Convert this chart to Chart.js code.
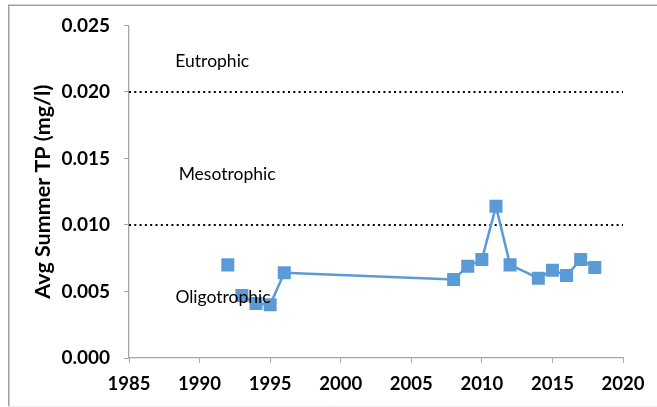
<!DOCTYPE html>
<html>
<head>
<meta charset="utf-8">
<script src="https://cdn.jsdelivr.net/npm/chart.js@4/dist/chart.umd.min.js"></script>
<style>
html,body{margin:0;padding:0;background:#fff;}
#wrap{width:657px;height:407px;position:relative;}
</style>
</head>
<body>
<div id="wrap"><canvas id="c" width="657" height="407"></canvas></div>
<script>
// ---- data ----
const years  = [1992, 1993, 1994, 1995, 1996, 2008, 2009, 2010, 2011, 2012, 2014, 2015, 2016, 2017, 2018];
const tpMgL  = [0.0070, 0.0047, 0.0041, 0.0040, 0.0064, 0.0059, 0.0069, 0.0074, 0.0114, 0.0070, 0.0060, 0.0066, 0.0062, 0.0074, 0.0068];
const thresholds = [0.020, 0.010];
const zoneLabels = ['Eutrophic', 'Mesotrophic', 'Oligotrophic'];
const xTicks = [1985, 1990, 1995, 2000, 2005, 2010, 2015, 2020];
const yTicks = [0.000, 0.005, 0.010, 0.015, 0.020, 0.025];

const BLUE = '#5b9bd5';
const AXIS = '#a6a6a6';

const points = years.map((x, i) => ({x: x, y: tpMgL[i]}));

const thresholdSets = thresholds.map(t => ({
  type: 'line',
  data: [{x: xTicks[0], y: t}, {x: xTicks[xTicks.length - 1], y: t}],
  borderColor: '#000',
  borderWidth: 2,
  borderDash: [2, 3.3],
  pointRadius: 0,
  fill: false,
  order: 2
}));

// label anchor positions in data coords (placement only)
const zonePos = [
  {x: 1990.9, y: 0.02233},
  {x: 1991.95, y: 0.0138},
  {x: 1991.66, y: 0.00459}
];

const framePlugin = {
  id: 'frame',
  beforeDraw(chart) {
    const ctx = chart.ctx;
    ctx.save();
    ctx.fillStyle = '#fff';
    ctx.fillRect(0, 0, chart.width, chart.height);
    ctx.strokeStyle = '#a0a0a0';
    ctx.lineWidth = 1.5;
    ctx.beginPath();
    ctx.moveTo(8.75, 407);
    ctx.lineTo(8.75, 5.25);
    ctx.lineTo(657, 5.25);
    ctx.stroke();
    ctx.strokeStyle = '#ececec';
    ctx.lineWidth = 1;
    ctx.beginPath();
    ctx.moveTo(8, 406.5);
    ctx.lineTo(657, 406.5);
    ctx.stroke();
    ctx.restore();
  }
};

const zonePlugin = {
  id: 'zones',
  afterDatasetsDraw(chart) {
    const ctx = chart.ctx;
    const xs = chart.scales.x, ys = chart.scales.y;
    ctx.save();
    ctx.font = '17.5px Lato';
    ctx.fillStyle = '#000';
    ctx.textAlign = 'center';
    ctx.textBaseline = 'middle';
    zoneLabels.forEach((t, i) => {
      ctx.fillText(t, xs.getPixelForValue(zonePos[i].x), ys.getPixelForValue(zonePos[i].y));
    });
    ctx.restore();
  }
};

new Chart(document.getElementById('c'), {
  type: 'scatter',
  data: {
    datasets: [
      {
        type: 'line',
        data: points,
        borderColor: BLUE,
        backgroundColor: BLUE,
        borderWidth: 2.5,
        pointStyle: 'rect',
        pointRadius: 9.2,
        pointHoverRadius: 9.2,
        pointBorderWidth: 0,
        fill: false,
        tension: 0,
        order: 1,
        segment: {
          borderColor: c => c.p0DataIndex === 0 ? 'rgba(0,0,0,0)' : BLUE
        }
      },
      ...thresholdSets
    ]
  },
  options: {
    responsive: false,
    animation: false,
    events: [],
    layout: {padding: {left: 0, right: 34, top: 24, bottom: 0}},
    plugins: {legend: {display: false}, tooltip: {enabled: false}},
    scales: {
      x: {
        type: 'linear',
        min: xTicks[0],
        max: xTicks[xTicks.length - 1],
        afterBuildTicks: s => { s.ticks = xTicks.map(v => ({value: v})); },
        afterFit: s => { s.height = 49; },
        grid: {drawOnChartArea: false, color: AXIS, tickLength: 5, tickColor: AXIS},
        border: {color: AXIS, width: 1.3},
        ticks: {
          color: '#000',
          font: {family: 'Lato', size: 18.5, weight: 'bold'},
          padding: 10,
          maxRotation: 0,
          callback: v => String(v)
        }
      },
      y: {
        type: 'linear',
        min: yTicks[0],
        max: yTicks[yTicks.length - 1],
        afterBuildTicks: s => { s.ticks = yTicks.map(v => ({value: v})); },
        afterFit: s => { s.width = 129; },
        grid: {drawOnChartArea: false, color: AXIS, tickLength: 5, tickColor: AXIS},
        border: {color: AXIS, width: 1.3},
        title: {
          display: true,
          text: 'Avg Summer TP (mg/l)',
          color: '#000',
          font: {family: 'Lato', size: 21.5, weight: 'bold'},
          padding: {top: 30, bottom: 0}
        },
        ticks: {
          color: '#000',
          font: {family: 'Lato', size: 19, weight: 'bold'},
          padding: 14,
          callback: v => Number(v).toFixed(3)
        }
      }
    }
  },
  plugins: [framePlugin, zonePlugin]
});
</script>
</body>
</html>
